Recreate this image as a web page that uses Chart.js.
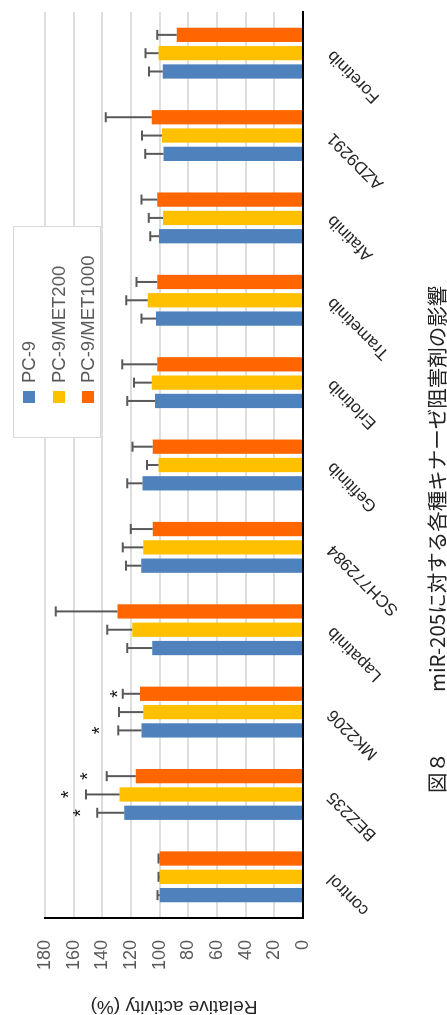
<!DOCTYPE html>
<html>
<head>
<meta charset="utf-8">
<script src="https://cdn.jsdelivr.net/npm/chart.js@4.4.1/dist/chart.umd.min.js"></script>
<style>
  html, body { margin:0; padding:0; background:#fff; overflow:hidden; width:447px; height:1015px; }
  #wrap { position:absolute; left:0; top:0; width:1015px; height:447px; transform-origin:0 0; transform:translate(0,1015px) rotate(-90deg); background:#fff; }
  #c { position:absolute; left:0; top:0; }
  #legend { position:absolute; left:577px; top:13px; width:210px; height:86px; background:#fff; border:1px solid #d9d9d9; font-family:"Liberation Sans", Arial, sans-serif; font-size:18.5px; color:#595959; }
  .row { position:absolute; left:0; height:20px; line-height:20px; white-space:nowrap; }
  .sw { position:absolute; left:34px; top:4px; width:12px; height:12px; }
  .tx { position:absolute; left:54px; top:0; }
  #caption { position:absolute; left:222px; top:425px; font-family:"Noto Sans CJK JP", sans-serif; font-size:20.5px; line-height:22px; color:#222; white-space:nowrap; }
  #caption .gap { display:inline-block; width:60px; }
</style>
</head>
<body>
<div id="wrap">
  <canvas id="c" width="1015" height="447"></canvas>
  <div id="legend"></div>
  <div id="caption">図８<span class="gap"></span>miR-205に対する各種キナーゼ阻害剤の影響</div>
</div>
<script>
// ---- data ----
const categories = ['control','BEZ235','MK2206','Lapatinib','SCH772984','Gefitinib','Erlotinib','Trametinib','Afatinib','AZD9291','Foretinib'];
const seriesNames = ['PC-9','PC-9/MET200','PC-9/MET1000'];
const pc9      = [100, 124.7, 112.6, 105.1, 112.8, 111.9, 103.3, 102.6, 100.5, 97.4, 97.9];
const pc9Err   = [1.5, 18.8, 16.3, 17.5, 10.7, 10.7, 19.3, 10.0, 6.0, 12.6, 9.5];
const met200    = [100, 128.1, 111.4, 119.1, 111.4, 100.9, 105.6, 108.4, 97.7, 98.4, 100.9];
const met200Err = [0.8, 23.3, 17.0, 17.4, 14.4, 8.0, 12.3, 15.0, 10.0, 14.0, 9.0];
const met1000    = [100, 116.7, 113.7, 129.5, 104.9, 104.9, 101.6, 101.6, 101.6, 105.6, 88.1];
const met1000Err = [0.8, 20.3, 12.0, 43.0, 15.3, 14.0, 24.5, 14.5, 11.0, 32.0, 13.5];
// asterisk marks (value position along the axis), null = none
const pc9Star     = [null, 158.4, 145.6, null, null, null, null, null, null, null, null];
const met200Star  = [null, 166.7, null, null, null, null, null, null, null, null, null];
const met1000Star = [null, 153.7, 132.8, null, null, null, null, null, null, null, null];
const yTicksMax = 180, yTicksStep = 20;
const colors = ['#4F81BD', '#FFC000', '#FF6600'];

const values = [pc9, met200, met1000];
const errs = [pc9Err, met200Err, met1000Err];
const stars = [pc9Star, met200Star, met1000Star];

// ---- legend (HTML) ----
const lg = document.getElementById('legend');
seriesNames.forEach((n, i) => {
  const r = document.createElement('div');
  r.className = 'row';
  r.style.top = (5 + i * 29.5) + 'px';
  r.innerHTML = '<span class="sw" style="background:' + colors[i] + '"></span><span class="tx">' + n + '</span>';
  lg.appendChild(r);
});

const errPlugin = {
  id: 'errbars',
  afterDatasetsDraw(chart) {
    const ctx = chart.ctx;
    const y = chart.scales.y;
    chart.data.datasets.forEach((ds, di) => {
      const meta = chart.getDatasetMeta(di);
      meta.data.forEach((bar, i) => {
        const v = ds.data[i];
        const e = errs[di][i];
        const yTop = y.getPixelForValue(v + e);
        ctx.save();
        ctx.strokeStyle = '#595959';
        ctx.lineWidth = 2;
        ctx.beginPath();
        ctx.moveTo(bar.x, bar.y);
        ctx.lineTo(bar.x, yTop);
        ctx.moveTo(bar.x - 5, yTop);
        ctx.lineTo(bar.x + 5, yTop);
        ctx.stroke();
        const s = stars[di][i];
        if (s !== null && s !== undefined) {
          ctx.fillStyle = '#111';
          ctx.font = '20px "Liberation Sans", Arial, sans-serif';
          ctx.textAlign = 'center';
          ctx.textBaseline = 'alphabetic';
          ctx.fillText('*', bar.x, y.getPixelForValue(s) + 0.57 * 20);
        }
        ctx.restore();
      });
    });
  }
};

const FONT = '"Liberation Sans", Arial, sans-serif';
new Chart(document.getElementById('c'), {
  type: 'bar',
  data: {
    labels: categories,
    datasets: seriesNames.map((n, i) => ({
      label: n,
      data: values[i],
      backgroundColor: colors[i],
      borderWidth: 0,
      categoryPercentage: 0.667,
      barPercentage: 0.78
    }))
  },
  plugins: [errPlugin],
  options: {
    responsive: false,
    animation: false,
    devicePixelRatio: 1,
    layout: { padding: { left: 0, right: 12, top: 45, bottom: 0 } },
    plugins: { legend: { display: false }, tooltip: { enabled: false } },
    scales: {
      x: {
        grid: { display: false, drawTicks: false },
        border: { display: true, color: '#000', width: 2 },
        ticks: { minRotation: 45, maxRotation: 45, padding: 20, color: '#262626', font: { size: 17, family: FONT } },
        afterFit(s) { s.height = 144; }
      },
      y: {
        min: 0, max: yTicksMax,
        ticks: { stepSize: yTicksStep, padding: 22, color: '#595959', font: { size: 18, family: FONT } },
        grid: { color: '#dedede', lineWidth: 2, drawTicks: false },
        border: { display: true, color: '#000', width: 2 },
        title: { display: true, text: 'Relative activity (%)', color: '#262626', padding: { top: -1, bottom: 0 }, font: { size: 19, family: FONT, lineHeight: 1 } },
        afterFit(s) { s.width = 97; }
      }
    }
  }
});
</script>
</body>
</html>
